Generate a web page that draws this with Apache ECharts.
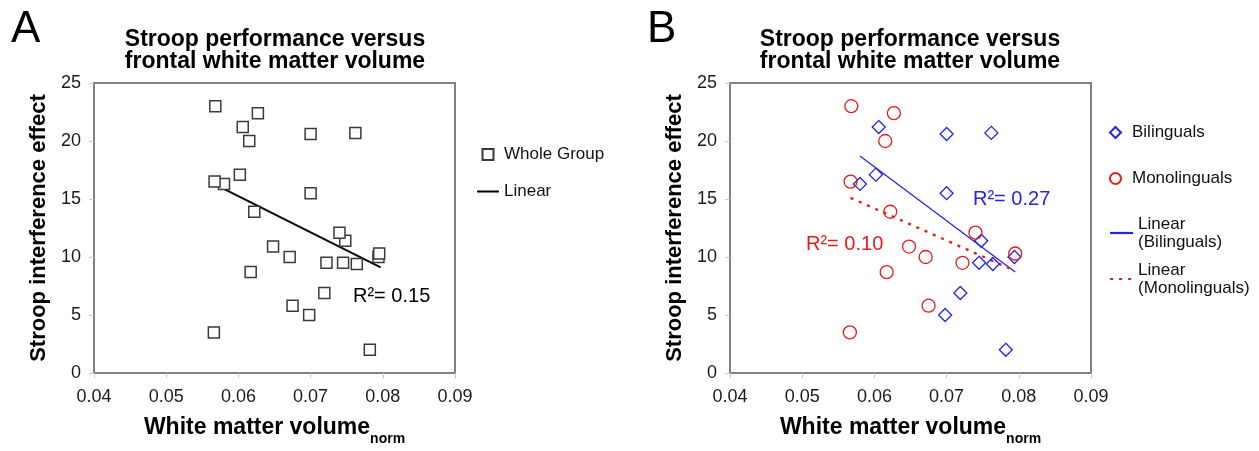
<!DOCTYPE html>
<html><head><meta charset="utf-8">
<script src="https://cdn.jsdelivr.net/npm/echarts@6/dist/echarts.min.js"></script>
<style>html,body{margin:0;padding:0;background:#fff}#c{width:1259px;height:451px}</style>
</head><body><div id="c"></div>
<script>
const FONT = '"Liberation Sans", Arial, Helvetica, sans-serif';
const panelLetters = ['A', 'B'];
const titleText = 'Stroop performance versus\nfrontal white matter volume';
const xName = 'White matter volume';
const xSub = 'norm';
const yName = 'Stroop interference effect';
const xTickLabels = ['0.04', '0.05', '0.06', '0.07', '0.08', '0.09'];
const yTickLabels = ['0', '5', '10', '15', '20', '25'];

// Bilinguals (blue diamonds)
const biX = [0.0606, 0.0700, 0.0762, 0.0602, 0.0580, 0.0700, 0.0748, 0.0794, 0.0745, 0.0764, 0.0719, 0.0698, 0.0782];
const biY = [21.2, 20.6, 20.7, 17.1, 16.3, 15.5, 11.4, 10.0, 9.5, 9.4, 6.9, 5.0, 2.0];
// Monolinguals (red circles)
const monoX = [0.0568, 0.0627, 0.0615, 0.0567, 0.0622, 0.0740, 0.0648, 0.0671, 0.0795, 0.0722, 0.0617, 0.0675, 0.0566];
const monoY = [23.0, 22.4, 20.0, 16.5, 13.9, 12.1, 10.9, 10.0, 10.3, 9.5, 8.7, 5.8, 3.5];
// Trend line end points
const linAllX = [0.0566, 0.0797];
const linAllY = [16.3, 9.1];
const linBiX = [0.0580, 0.0795];
const linBiY = [18.7, 8.7];
const linMonoX = [0.0567, 0.0795];
const linMonoY = [15.1, 8.8];
const r2Labels = ['R\u00b2= 0.15', 'R\u00b2= 0.27', 'R\u00b2= 0.10'];

const pairs = (xs, ys) => xs.map((x, i) => [x, ys[i]]);
const wholeX = biX.concat(monoX);
const wholeY = biY.concat(monoY);

const BLUE = '#2323f0';
const RED = '#e41c1c';
const SQUARE_ICON = 'path://M0,0H10V10H0Z';
const DIAMOND_ICON = 'path://M5,0L10,5L5,10L0,5Z';

function xAxisFor(i) {
  return {
    type: 'value', gridIndex: i, min: 0.04, max: 0.09, interval: 0.01,
    axisLine: { show: false },
    axisTick: { show: true, length: 5, lineStyle: { color: '#c8c8c8', width: 1 } },
    splitLine: { show: false },
    axisLabel: { fontSize: 18, color: '#1a1a1a', fontFamily: FONT, margin: 15,
      formatter: v => xTickLabels[Math.round((v - 0.04) / 0.01)] },
    name: '{a|' + xName + '}{b|' + xSub + '}',
    nameLocation: 'middle', nameGap: 43,
    nameTextStyle: {
      fontFamily: FONT, color: '#000',
      rich: {
        a: { fontSize: 23, fontWeight: 'bold', fontFamily: FONT, color: '#000', lineHeight: 26, verticalAlign: 'top' },
        b: { fontSize: 14, fontWeight: 'bold', fontFamily: FONT, color: '#000', lineHeight: 14, padding: [20, 0, 0, 0] }
      }
    }
  };
}
function yAxisFor(i) {
  return {
    type: 'value', gridIndex: i, min: 0, max: 25, interval: 5,
    axisLine: { show: false },
    axisTick: { show: true, length: 5, lineStyle: { color: '#c8c8c8', width: 1 } },
    splitLine: { show: false },
    axisLabel: { fontSize: 18, color: '#1a1a1a', fontFamily: FONT, margin: 13,
      formatter: v => yTickLabels[Math.round(v / 5)] },
    name: yName, nameLocation: 'middle', nameGap: 44, nameRotate: 90,
    nameTextStyle: { fontSize: 22, fontWeight: 'bold', color: '#000', fontFamily: FONT }
  };
}

const titleStyle = { fontSize: 23, fontWeight: 'bold', color: '#000', fontFamily: FONT, lineHeight: 22 };
const letterStyle = { fontSize: 44, fontWeight: 'normal', color: '#000', fontFamily: FONT };
const legendText = { fontSize: 17, color: '#111', fontFamily: FONT, lineHeight: 19 };
const hideDot = { opacity: 0 };

const option = {
  animation: false,
  backgroundColor: '#fff',
  title: [
    { text: panelLetters[0], left: 6, top: 3, textStyle: letterStyle },
    { text: titleText, left: 270, top: 24, textAlign: 'center', textStyle: titleStyle },
    { text: panelLetters[1], left: 642, top: 3, textStyle: letterStyle },
    { text: titleText, left: 905, top: 24, textAlign: 'center', textStyle: titleStyle }
  ],
  grid: [
    { left: 94, top: 83, width: 361, height: 290, show: true, borderColor: '#808080', borderWidth: 2, backgroundColor: 'rgba(0,0,0,0)', outerBoundsMode: 'none' },
    { left: 730, top: 83, width: 361, height: 290, show: true, borderColor: '#808080', borderWidth: 2, backgroundColor: 'rgba(0,0,0,0)', outerBoundsMode: 'none' }
  ],
  xAxis: [xAxisFor(0), xAxisFor(1)],
  yAxis: [yAxisFor(0), yAxisFor(1)],
  legend: [
    { data: [{ name: 'Whole Group', icon: SQUARE_ICON }, { name: 'Linear', itemStyle: hideDot }],
      orient: 'vertical', left: 471, top: 140, itemWidth: 22, itemHeight: 11, itemGap: 18, selectedMode: false, textStyle: legendText },
    { data: [{ name: 'Bilinguals', icon: DIAMOND_ICON }, { name: 'Monolinguals', icon: 'circle' }],
      orient: 'vertical', left: 1104, top: 118, itemWidth: 23, itemHeight: 11, itemGap: 27, selectedMode: false, textStyle: legendText },
    { data: [
        { name: 'Linear\n(Bilinguals)', itemStyle: hideDot },
        { name: 'Linear\n(Monolinguals)', itemStyle: hideDot }
      ],
      lineStyle: { width: 2.2 },
      orient: 'vertical', left: 1104, top: 210, itemWidth: 23, itemHeight: 11, itemGap: 10, selectedMode: false,
      textStyle: { fontSize: 17, color: '#111', fontFamily: FONT, lineHeight: 18 } }
  ],
  series: [
    { name: 'Linear', type: 'line', xAxisIndex: 0, yAxisIndex: 0, data: pairs(linAllX, linAllY), symbol: 'none', lineStyle: { color: '#000', width: 2 }, itemStyle: { color: '#000' }, z: 2 },
    { name: 'Whole Group', type: 'scatter', xAxisIndex: 0, yAxisIndex: 0, data: pairs(wholeX, wholeY), symbol: 'rect', symbolSize: 11, itemStyle: { color: '#fff', borderColor: '#3a3a3a', borderWidth: 1.5, opacity: 1 }, z: 3 },
    { name: 'Linear\n(Bilinguals)', type: 'line', xAxisIndex: 1, yAxisIndex: 1, data: pairs(linBiX, linBiY), symbol: 'none', lineStyle: { color: BLUE, width: 1.3 }, itemStyle: { color: BLUE }, z: 2 },
    { name: 'Linear\n(Monolinguals)', type: 'line', xAxisIndex: 1, yAxisIndex: 1, data: pairs(linMonoX, linMonoY), symbol: 'none', lineStyle: { color: RED, width: 2.4, type: [3, 6] }, itemStyle: { color: RED }, z: 2 },
    { name: 'Bilinguals', type: 'scatter', xAxisIndex: 1, yAxisIndex: 1, data: pairs(biX, biY), symbol: 'diamond', symbolSize: 13, itemStyle: { color: 'rgba(255,255,255,0)', borderColor: BLUE, borderWidth: 1.3, opacity: 1 }, z: 3 },
    { name: 'Monolinguals', type: 'scatter', xAxisIndex: 1, yAxisIndex: 1, data: pairs(monoX, monoY), symbol: 'circle', symbolSize: 13, itemStyle: { color: 'rgba(255,255,255,0)', borderColor: RED, borderWidth: 1.3, opacity: 1 }, z: 3 }
  ],
  graphic: [
    { type: 'text', left: 353, top: 286, style: { text: r2Labels[0], fontSize: 20, fill: '#000', fontFamily: FONT } },
    { type: 'text', left: 973, top: 189, style: { text: r2Labels[1], fontSize: 20, fill: BLUE, fontFamily: FONT } },
    { type: 'text', left: 806, top: 234, style: { text: r2Labels[2], fontSize: 20, fill: RED, fontFamily: FONT } }
  ]
};

const chart = echarts.init(document.getElementById('c'), null, { renderer: 'canvas' });
chart.setOption(option);
</script>
</body></html>
